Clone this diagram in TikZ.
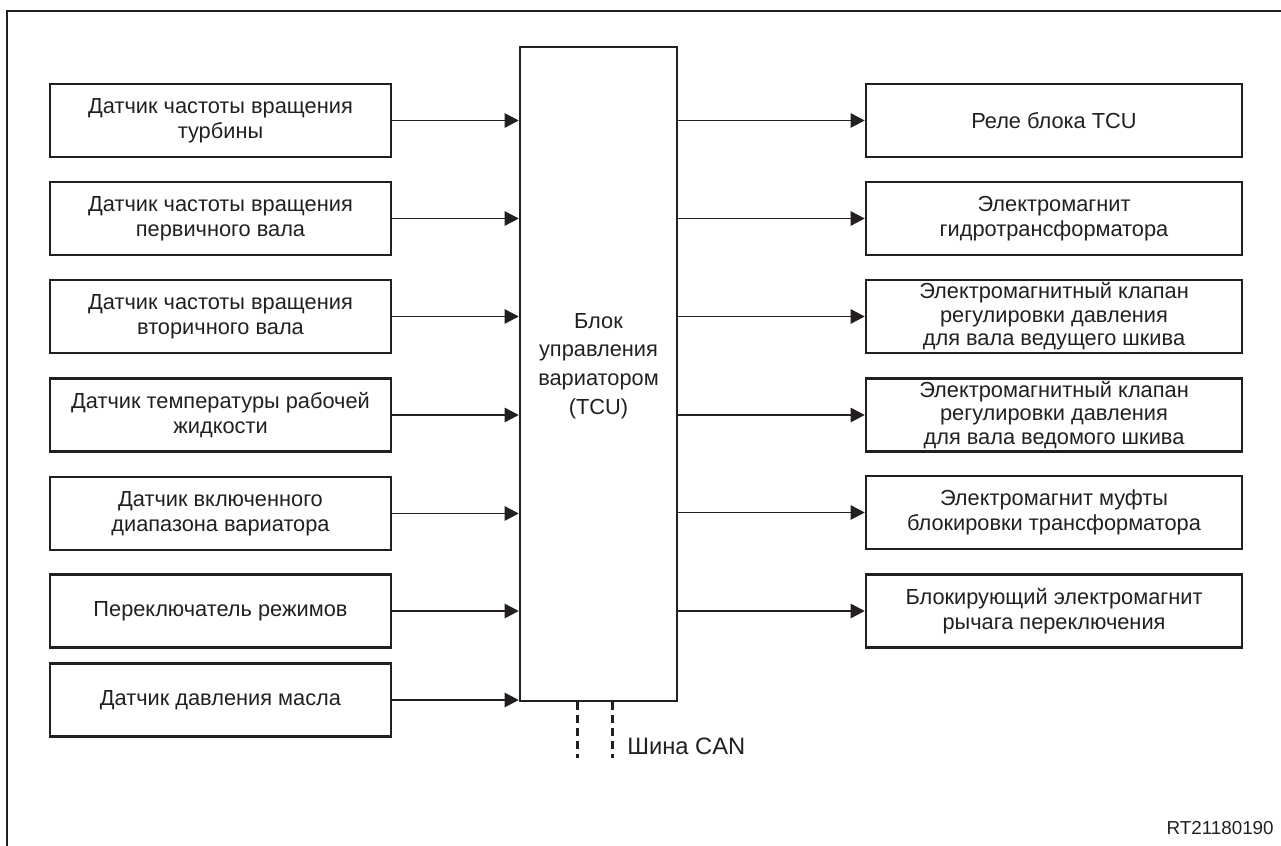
\documentclass[tikz,border=0pt]{standalone}
\usepackage{fontspec}
\setmainfont{Liberation Sans}
\usetikzlibrary{arrows.meta, positioning, calc}
\definecolor{ink}{HTML}{231F20}

\begin{document}
\begin{tikzpicture}[x=0.2mm, y=-0.2mm,
    box/.style={draw=ink, line width=1.5pt, align=center, inner sep=0pt, text=ink, font=\fontsize{12.4}{14.2}\selectfont},
    inbox/.style={box, minimum width=68.2mm, minimum height=14.6mm},
    outbox/.style={box, minimum width=75.2mm, minimum height=14.6mm},
    sig/.style={draw=ink, line width=0.6pt, -{Triangle[length=2.8mm, width=2.9mm]}},
    bus/.style={draw=ink, line width=1.7pt, dash pattern=on 1.6mm off 1mm}]
    \useasboundingbox (0,0) rectangle (1281,846);
    \draw[ink, line width=1pt] (7,846) -- (7,11) -- (1281,11);

    % inputs
    \node[inbox] (s1) at (220.5,120.5) {Датчик частоты вращения\\турбины};
    \node[inbox] (s2) at (220.5,218.5) {Датчик частоты вращения\\первичного вала};
    \node[inbox] (s3) at (220.5,316.5) {Датчик частоты вращения\\вторичного вала};
    \node[inbox] (s4) at (220.5,415) {Датчик температуры рабочей\\жидкости};
    \node[inbox] (s5) at (220.5,513.5) {Датчик включенного\\диапазона вариатора};
    \node[inbox] (s6) at (220.5,611) {Переключатель режимов};
    \node[inbox] (s7) at (220.5,700) {Датчик давления масла};

    % control unit
    \node[box, minimum width=31.4mm, minimum height=130.8mm,
        label={[text=ink, align=center, font=\fontsize{12.4}{16.4}\selectfont, yshift=1.6mm]center:Блок\\управления\\вариатором\\(TCU)}] (tcu) at (598.5,374) {};

    % outputs
    \node[outbox] (a1) at (1054,120.5) {Реле блока TCU};
    \node[outbox] (a2) at (1054,218.5) {Электромагнит\\гидротрансформатора};
    \node[outbox, font=\fontsize{12.4}{13.3}\selectfont] (a3) at (1054,316.5) {Электромагнитный клапан\\регулировки давления\\для вала ведущего шкива};
    \node[outbox, font=\fontsize{12.4}{13.3}\selectfont] (a4) at (1054,415) {Электромагнитный клапан\\регулировки давления\\для вала ведомого шкива};
    \node[outbox] (a5) at (1054,512.5) {Электромагнит муфты\\блокировки трансформатора};
    \node[outbox] (a6) at (1054,611) {Блокирующий электромагнит\\рычага переключения};

    \foreach \i in {1,...,7}
        \draw[sig] (s\i.east) -- (s\i.east -| tcu.west);
    \foreach \i in {1,...,6}
        \draw[sig] (a\i.west -| tcu.east) -- (a\i.west);

    % CAN bus
    \coordinate (canL) at (577,758);
    \coordinate (canR) at (612,758);
    \draw[bus] (canL |- tcu.south) -- (canL);
    \draw[bus] (canR |- tcu.south) -- (canR);
    \node[anchor=west, inner sep=0pt, text=ink, font=\fontsize{13.5}{16}\selectfont] (canlbl) at (627,746) {Шина CAN};

    \node[anchor=east, inner sep=0pt, text=ink, font=\fontsize{10.7}{12}\selectfont] (figid) at (1274,828) {RT21180190};
\end{tikzpicture}
\end{document}
